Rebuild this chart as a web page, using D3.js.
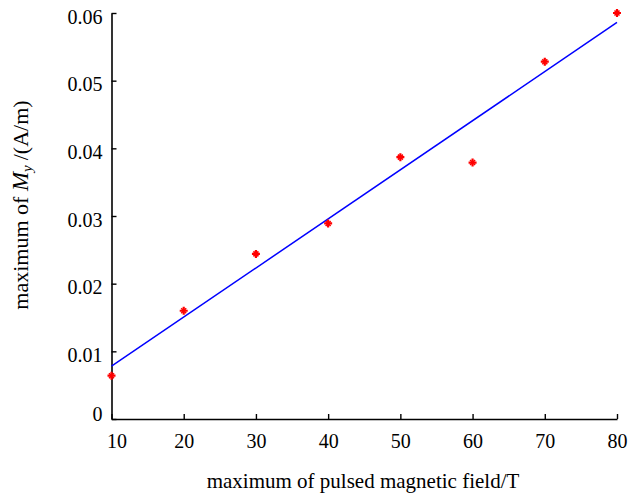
<!DOCTYPE html>
<html>
<head>
<meta charset="utf-8">
<script src="https://cdn.jsdelivr.net/npm/d3@7/dist/d3.min.js"></script>
<style>
  html, body { margin: 0; padding: 0; background: #fff; }
  svg { display: block; }
  svg text { font-family: "Liberation Serif", "Times New Roman", serif !important; fill: #000; }
</style>
</head>
<body>
<svg id="chart" width="640" height="499"></svg>
<script>
// ---- data ----
const fieldT = [10, 20, 30, 40, 50, 60, 70, 80];
const maxMy = [0.0064, 0.0160, 0.0244, 0.0289, 0.0387, 0.0379, 0.0528, 0.0600];
const fitX = [10, 80];
const fitY = [0.0078, 0.0586];
const xTicks = [10, 20, 30, 40, 50, 60, 70, 80];
const yTicks = [0, 0.01, 0.02, 0.03, 0.04, 0.05, 0.06];

const svg = d3.select("#chart");
const x = d3.scaleLinear().domain([10, 80]).range([111.5, 617]);
const y = d3.scaleLinear().domain([0, 0.06]).range([419, 13]);

// axes
const gx = svg.append("g").attr("transform", `translate(0,${y(0)})`)
  .call(d3.axisBottom(x).tickValues(xTicks).tickSizeInner(-5).tickSizeOuter(0).tickPadding(15).tickFormat(d3.format("d")));
const gy = svg.append("g").attr("transform", `translate(${x(10)},0)`)
  .call(d3.axisLeft(y).tickValues(yTicks).tickSizeInner(-5).tickSizeOuter(0).tickPadding(9)
    .tickFormat(d => d === 0 ? "0" : d.toFixed(2)));

[gx, gy].forEach(g => {
  g.attr("font-family", "Liberation Serif");
  g.select(".domain").attr("stroke", "#000").attr("stroke-width", 1.6);
  g.selectAll(".tick line").attr("stroke", "#000").attr("stroke-width", 1.4);
  g.selectAll(".tick text").attr("font-size", 20).attr("fill", "#000")
    .style("font-family", "'Liberation Serif', serif");
});
gy.selectAll(".tick text").attr("dy", d => d === 0 ? "0.05em" : "0.5em");
gx.selectAll(".tick text").attr("dx", d => d === 10 ? 5 : 0);

// fit line
svg.append("path")
  .datum(fitX.map((v, i) => [v, fitY[i]]))
  .attr("fill", "none").attr("stroke", "#0000ff").attr("stroke-width", 1.5)
  .attr("d", d3.line().x(d => x(d[0])).y(d => y(d[1])));

// markers
const mk = svg.append("g").selectAll("g").data(fieldT.map((v, i) => [v, maxMy[i]])).join("g")
  .attr("transform", d => `translate(${x(d[0])},${y(d[1])})`);
mk.append("path").attr("d", "M-4,0H4M0,-4V4").attr("stroke", "#ff0000").attr("stroke-width", 2.2);
mk.append("path").attr("d", "M-2.5,-2.5L2.5,2.5M-2.5,2.5L2.5,-2.5").attr("stroke", "#ff0000").attr("stroke-width", 1.6);

// axis titles
svg.append("text").attr("x", 363).attr("y", 488).attr("text-anchor", "middle").attr("font-size", 21)
  .text("maximum of pulsed magnetic field/T");

const yt = svg.append("text").attr("transform", "translate(28,205) rotate(-90)")
  .attr("text-anchor", "middle").attr("font-size", 22);
yt.append("tspan").text("maximum of ");
yt.append("tspan").attr("font-style", "italic").attr("font-size", 23).text("M");
yt.append("tspan").attr("font-style", "italic").attr("font-size", 15).attr("dy", 4).text("y");
yt.append("tspan").attr("dy", -4).attr("dx", 5).text("/(A/m)");
</script>
</body>
</html>
